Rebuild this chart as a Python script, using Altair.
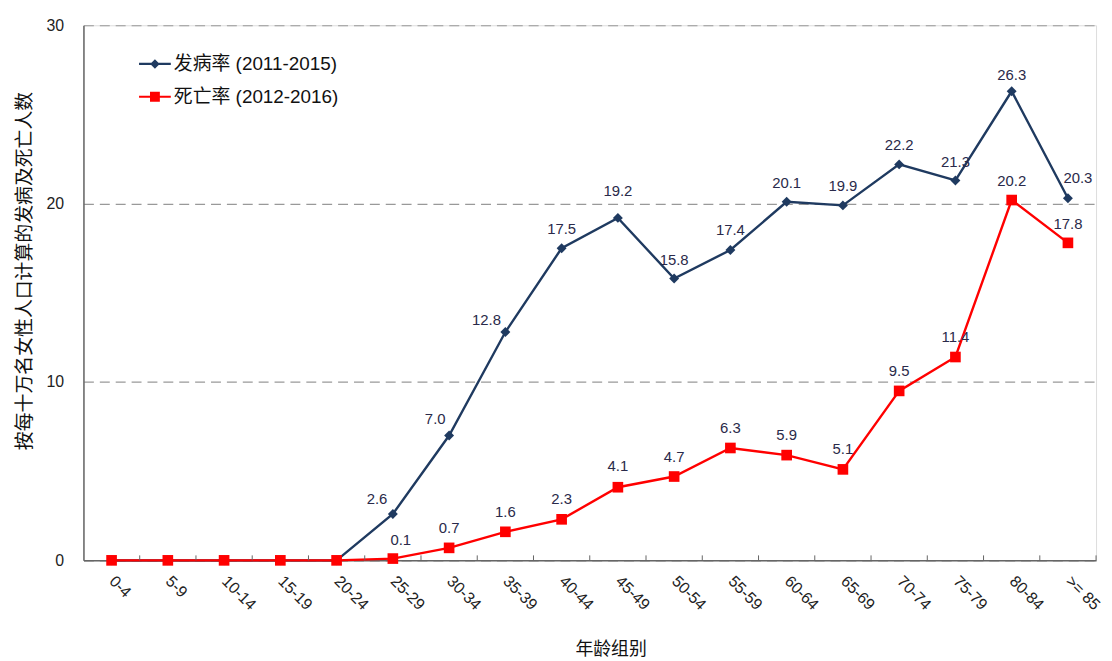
import json
import altair as alt
import pandas as pd

categories = ["0-4", "5-9", "10-14", "15-19", "20-24", "25-29", "30-34", "35-39",
              "40-44", "45-49", "50-54", "55-59", "60-64", "65-69", "70-74",
              "75-79", "80-84", ">= 85"]
incidence = [0, 0, 0, 0, 0, 2.6, 7.0, 12.8, 17.5, 19.2, 15.8, 17.4, 20.1, 19.9,
             22.2, 21.3, 26.3, 20.3]
mortality = [0, 0, 0, 0, 0, 0.1, 0.7, 1.6, 2.3, 4.1, 4.7, 6.3, 5.9, 5.1, 9.5,
             11.4, 20.2, 17.8]
series_names = ["发病率 (2011-2015)", "死亡率 (2012-2016)"]
series_colors = ["#1F3A60", "#FF0000"]

# data-label nudges in pixels (style only)
inc_dx = [0, 0, 0, 0, 0, -16, -14, -19, 0, 0, 0, 0, 0, 0, 0, 0, 0, 10]
inc_dy = [0, 0, 0, 0, 0, -15, -17, -12, -19, -27, -19, -20, -19, -20, -19, -19, -16, -20]
mor_dx = [0, 0, 0, 0, 0, 8, 0, 0, 0, 0, 0, 0, 0, 0, 0, 0, 0, 0]
mor_dy = [0, 0, 0, 0, 0, -19, -20, -20, -20, -21, -20, -20, -20, -20, -20, -20, -19, -19]

W, H = 1020, 539
YMAX = 30
n = len(categories)
step = W / n
ppu = H / YMAX

FONT = "Liberation Sans, Noto Sans CJK SC, sans-serif"
XTITLE = "年龄组别"
YTITLE = "按每十万名女性人口计算的发病及死亡人数"

rows = []
for s, (vals, dxs, dys) in enumerate([(incidence, inc_dx, inc_dy),
                                        (mortality, mor_dx, mor_dy)]):
    for i, cat in enumerate(categories):
        rows.append({
            "idx": i,
            "cat": cat,
            "series": series_names[s],
            "value": vals[i],
            "lx": i + dxs[i] / step,
            "ly": vals[i] - dys[i] / ppu,
            "label": f"{vals[i]:.1f}",
            "show": i >= 5,
        })
df = pd.DataFrame(rows)

ticks_df = pd.DataFrame({"idx": [i + 0.5 for i in range(n)]})

xscale = alt.Scale(domain=[-0.5, n - 0.5], nice=False, zero=False)
yscale = alt.Scale(domain=[0, YMAX], nice=False)
cscale = alt.Scale(domain=series_names, range=series_colors)

label_expr = json.dumps(categories, ensure_ascii=False) + "[datum.value]"

x_axis = alt.Axis(values=list(range(n)), labelExpr=label_expr,
                  tickSize=0, grid=False, labelAngle=45,
                  labelAlign="left", labelBaseline="middle",
                  labelPadding=18, labelOverlap=False, labelFlush=False,
                  labelFontSize=16, labelColor="#222", labelFont=FONT,
                  domainColor="#666", domainWidth=1.5,
                  titleFont=FONT, titleFontSize=18, titleFontWeight="normal",
                  titleColor="#111", titleX=531, titleY=90,
                  titleBaseline="middle", titleAlign="center")
y_axis = alt.Axis(values=[0, 10, 20, 30], tickSize=0, grid=True,
                  gridDash=[10, 6], gridColor="#999", gridWidth=1.2,
                  labelPadding=20, labelFontSize=16, labelColor="#222",
                  labelFont=FONT, domainColor="#666", domainWidth=1.5,
                  titleFont=FONT, titleFontSize=19, titleFontWeight="normal",
                  titleColor="#111", titleX=-59, titleY=247,
                  titleAngle=-90, titleBaseline="middle", titleAlign="center")
x_enc = alt.X("idx:Q", scale=xscale, title=XTITLE, axis=x_axis)
y_enc = alt.Y("value:Q", scale=yscale, title=YTITLE, axis=y_axis)

base = alt.Chart(df)

lines = base.mark_line(strokeWidth=2.4).encode(
    x=x_enc, y=y_enc,
    color=alt.Color("series:N", scale=cscale, legend=None))

ticks = alt.Chart(ticks_df).mark_rule(color="#666", strokeWidth=1).encode(
    x=x_enc,
    y=alt.value(H), y2=alt.value(H - 5))

pts_inc = base.transform_filter(alt.datum.series == series_names[0]).mark_point(
    shape="diamond", filled=True, size=100, opacity=1).encode(
    x=x_enc, y=y_enc,
    color=alt.Color("series:N", scale=cscale, legend=None))

pts_mor = base.transform_filter(alt.datum.series == series_names[1]).mark_point(
    shape="square", filled=True, size=115, opacity=1).encode(
    x=x_enc, y=y_enc,
    color=alt.Color("series:N", scale=cscale, legend=None))

labels = base.transform_filter(alt.datum.show).mark_text(
    font=FONT, fontSize=15, color="#2a2a4a", align="center", baseline="middle").encode(
    x=alt.X("lx:Q", scale=xscale, title=XTITLE, axis=x_axis),
    y=alt.Y("ly:Q", scale=yscale, title=YTITLE, axis=y_axis),
    text="label:N")

sym_diamond = "M-1,-0.07L1,-0.07L1,0.07L-1,0.07Z M0,-0.3L0.3,0L0,0.3L-0.3,0Z"
sym_square = "M-1,-0.065L1,-0.065L1,0.065L-1,0.065Z M-0.31,-0.31L0.31,-0.31L0.31,0.31L-0.31,0.31Z"

leg = alt.Legend(orient="none", legendX=56, legendY=23,
                 symbolSize=1024, symbolStrokeWidth=0, symbolOpacity=1,
                 labelFont=FONT, labelFontSize=19, labelColor="#111",
                 labelOffset=3, rowPadding=7, labelLimit=400)

# legend-only layer (marks placed outside the view); its scales use data-driven
# domains so that its legend is not merged with the hidden colour legend
legend_layer = base.mark_point(filled=True, size=1024, opacity=1).encode(
    x=alt.value(-400), y=alt.value(-400),
    fill=alt.Fill("series:N", scale=alt.Scale(range=series_colors),
                  legend=leg, title=""),
    shape=alt.Shape("series:N", scale=alt.Scale(range=[sym_diamond, sym_square]),
                    legend=leg, title=""))

chart = alt.layer(lines, ticks, pts_inc, pts_mor, labels, legend_layer).properties(
    width=W, height=H,
    autosize=alt.AutoSizeParams(type="none"),
    padding={"left": 76, "top": 15, "right": 8, "bottom": 99},
).configure_view(stroke="#999", strokeWidth=1.2).configure(background="white")

chart.save("out.html", embed_options={"renderer": "svg", "actions": False})
